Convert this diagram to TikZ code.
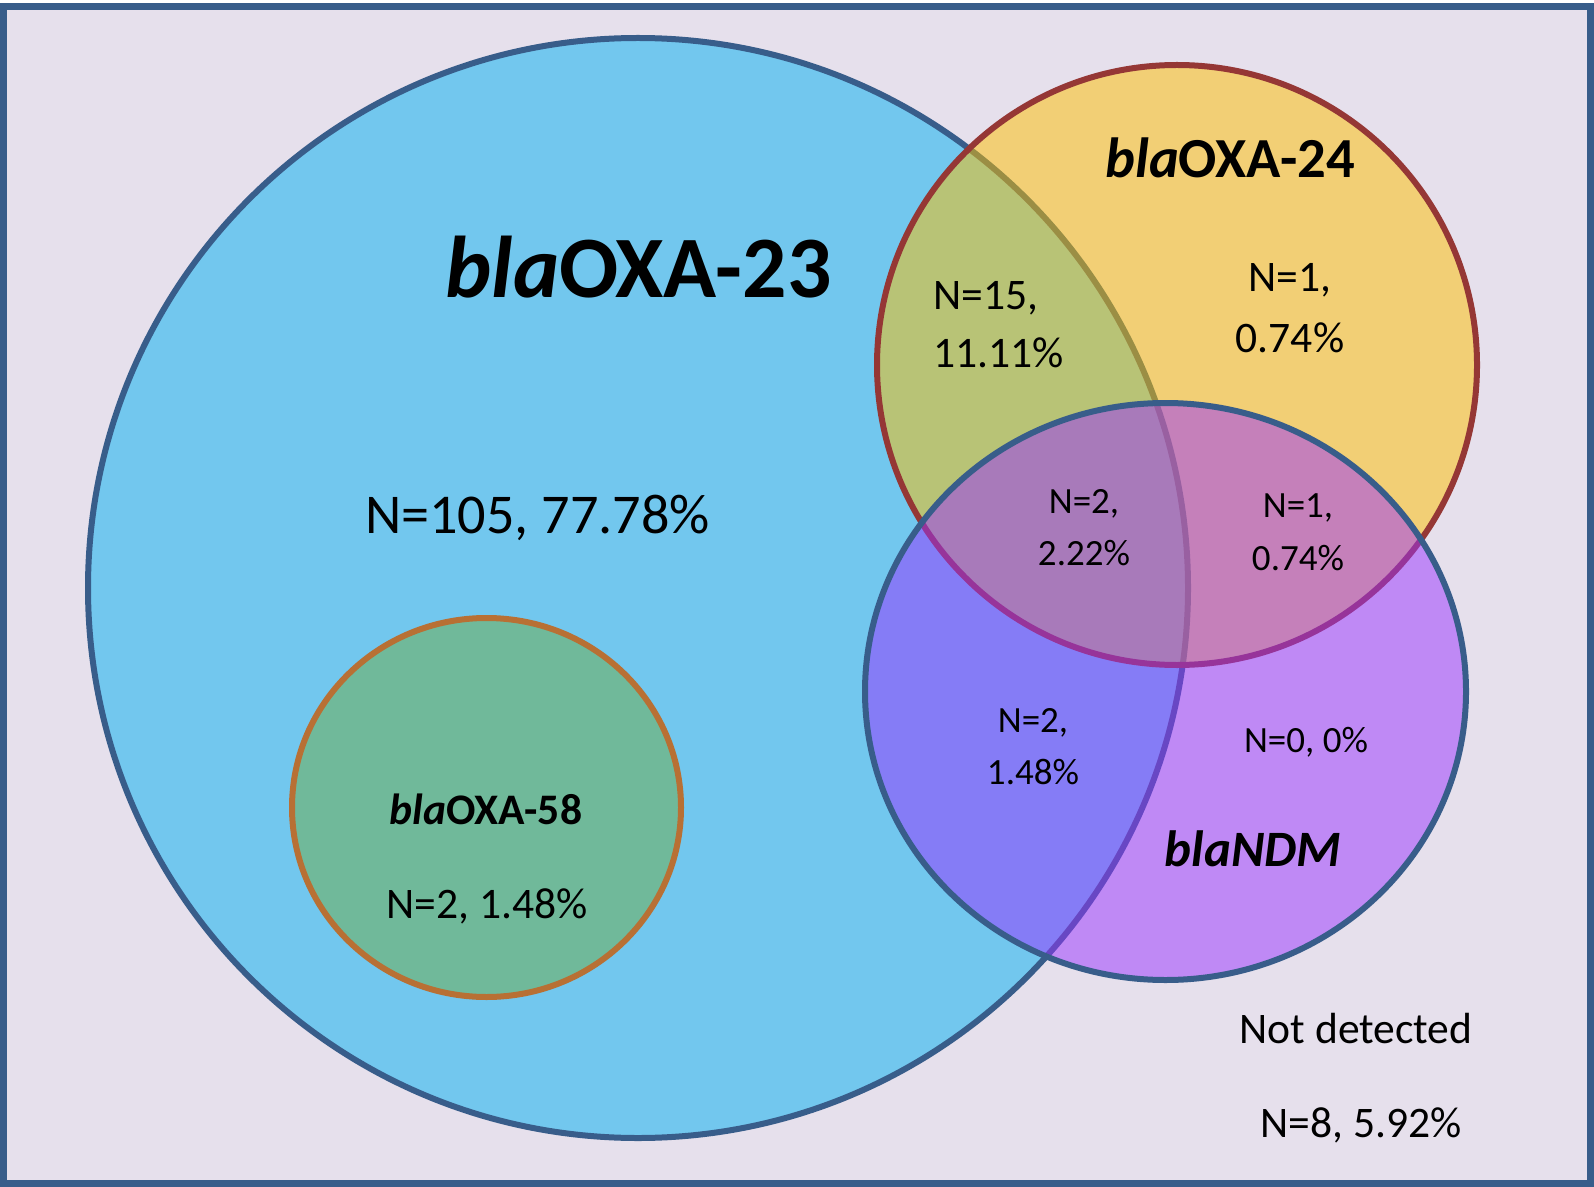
\documentclass[tikz,border=0pt]{standalone}
\usepackage{fontspec}
\setmainfont{Carlito}
\usepackage{tikz}
\definecolor{framebg}{HTML}{E6E0EC}
\definecolor{edgeblue}{HTML}{385D8A}
\definecolor{edgered}{HTML}{953735}
\definecolor{edgeorange}{RGB}{184,112,52}
\definecolor{oxablue}{HTML}{00B0F0}
\definecolor{oxagreen}{HTML}{70AD47}
\definecolor{oxagold}{HTML}{FFC000}
\definecolor{ndmviolet}{HTML}{9933FF}

\tikzset{
  venn/.style={line width=3pt, fill opacity=0.5},
  lbl/.style={inner sep=0pt, anchor=base},
  numlbl/.style={lbl, font=\fontsize{21.8}{26}\selectfont},
  numsm/.style={lbl, font=\fontsize{18.5}{22}\selectfont},
}

\begin{document}
\begin{tikzpicture}[x=0.5pt, y=-0.5pt]
    \useasboundingbox (0,0) rectangle (1594,1187);

    % Frame
    \draw[fill=framebg, draw=edgeblue, line width=3.5pt] (3.5,6.5) rectangle (1590.5,1183);

    % Sets
    \draw[venn, fill=oxablue, draw=edgeblue] (638,588) ellipse [x radius=550, y radius=550];
    \draw[venn, fill=oxagreen, draw=edgeorange] (486.5,807.5) ellipse [x radius=194.5, y radius=189.5];
    \draw[venn, fill=oxagold, draw=edgered] (1177,365) ellipse [x radius=300, y radius=300];
    \draw[venn, fill=ndmviolet, draw=edgeblue] (1165.5,691.5) ellipse [x radius=300.5, y radius=288.5];

    % Gene names
    \node[lbl, font=\fontsize{43.8}{50}\selectfont\bfseries] (oxa23) at (638.5,298) {\textit{bla}OXA-23};
    \node[lbl, font=\fontsize{28.3}{34}\selectfont\bfseries] (oxa24) at (1230,178) {\textit{bla}OXA-24};
    \node[lbl, font=\fontsize{21.8}{26}\selectfont\bfseries] (oxa58) at (486,824) {\textit{bla}OXA-58};
    \node[lbl, font=\fontsize{25.5}{30}\selectfont\bfseries\itshape] (ndm) at (1253,866) {blaNDM};

    % Counts
    \node[lbl, font=\fontsize{28.1}{34}\selectfont] (n105) at (537.5,533) {N=105, 77.78\%};
    \node[numlbl, anchor=base west] (n15a) at (933,310) {N=15,};
    \node[numlbl, anchor=base west] (n15b) at (933,368) {11.11\%};
    \node[numlbl] (n1a) at (1290,292) {N=1,};
    \node[numlbl] (n1b) at (1290,352) {0.74\%};
    \node[numsm] (n2a) at (1084,513) {N=2,};
    \node[numsm] (n2b) at (1084,565) {2.22\%};
    \node[numsm] (n1c) at (1298,517) {N=1,};
    \node[numsm] (n1d) at (1298,570) {0.74\%};
    \node[numsm] (n2c) at (1033,732) {N=2,};
    \node[numsm] (n2d) at (1033,784) {1.48\%};
    \node[numsm] (n0) at (1306,752) {N=0, 0\%};
    \node[numlbl] (n2e) at (487,918) {N=2, 1.48\%};

    % Outside all sets
    \node[numlbl] (nd) at (1356,1043) {Not detected};
    \node[numlbl] (n8) at (1361,1137) {N=8, 5.92\%};
\end{tikzpicture}
\end{document}
